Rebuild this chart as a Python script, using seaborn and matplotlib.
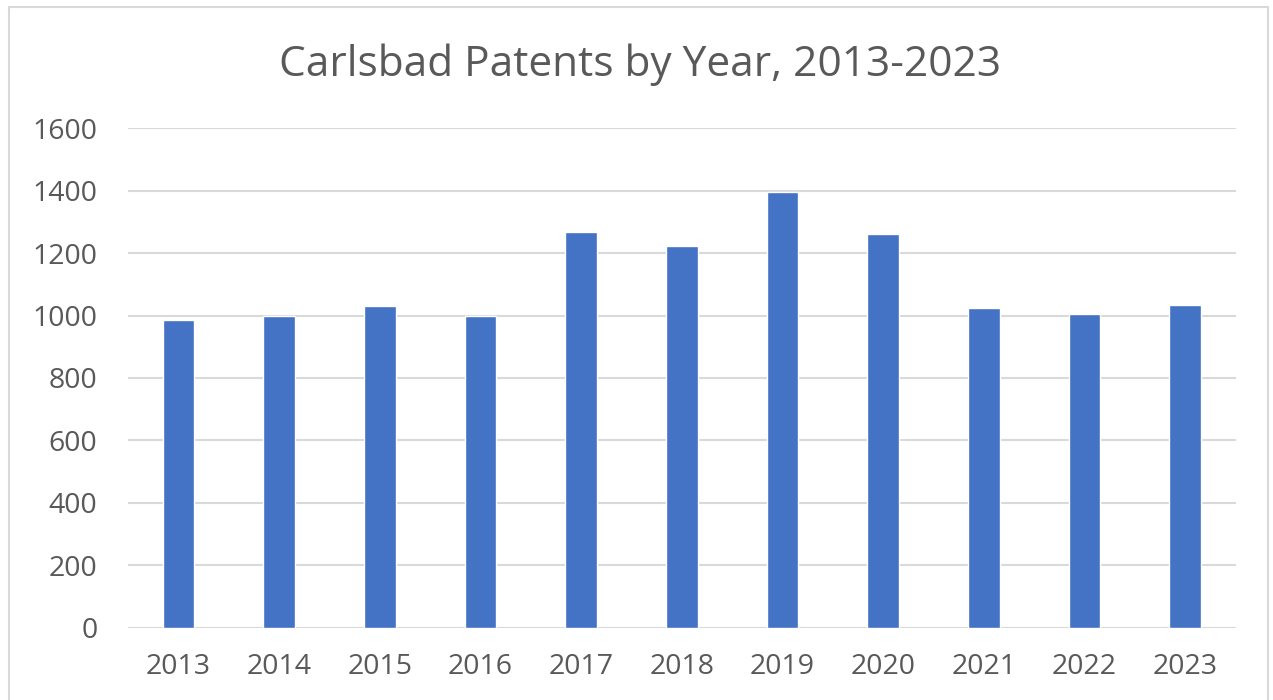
import matplotlib
matplotlib.use("Agg")
import pandas as pd
import seaborn as sns
import matplotlib.pyplot as plt
from matplotlib.patches import Rectangle

years = ["2013", "2014", "2015", "2016", "2017", "2018", "2019", "2020", "2021", "2022", "2023"]
patents = [987, 998, 1030, 1000, 1267, 1221, 1396, 1261, 1023, 1004, 1033]
y_ticks = [0, 200, 400, 600, 800, 1000, 1200, 1400, 1600]

data = pd.DataFrame({"year": years, "patents": patents})

sns.set_style("white")
plt.rcParams["font.family"] = ["Open Sans", "DejaVu Sans"]

fig = plt.figure(figsize=(12.73, 7.0), dpi=100)
ax = fig.add_axes([0.1006, 0.1029, 0.8700, 0.7142])

sns.barplot(data=data, x="year", y="patents", color="#4472C4", width=0.315,
            saturation=1, ax=ax, zorder=3)

ax.set_ylim(0, 1600)
ax.set_xlim(-0.5, len(years) - 0.5)
ax.set_yticks(y_ticks)
ax.yaxis.grid(True, color="#D9D9D9", linewidth=1.5, zorder=0)
ax.set_axisbelow(True)
for s in ax.spines.values():
    s.set_visible(False)
ax.tick_params(axis="both", length=0, labelsize=20.5, colors="#595959")
ax.tick_params(axis="y", pad=22)
ax.tick_params(axis="x", pad=18)
ax.set_xlabel("")
ax.set_ylabel("")

fig.text(0.503, 0.908, "Carlsbad Patents by Year, 2013-2023", ha="center", va="center",
         fontsize=30.5, color="#595959")

# chart border
fig.patches.append(Rectangle((9 / 1273, -0.01), 1259 / 1273, 1 - 7 / 700 + 0.01,
                             transform=fig.transFigure, fill=False,
                             edgecolor="#D9D9D9", linewidth=1.5))

plt.savefig("out.png", dpi=100)
